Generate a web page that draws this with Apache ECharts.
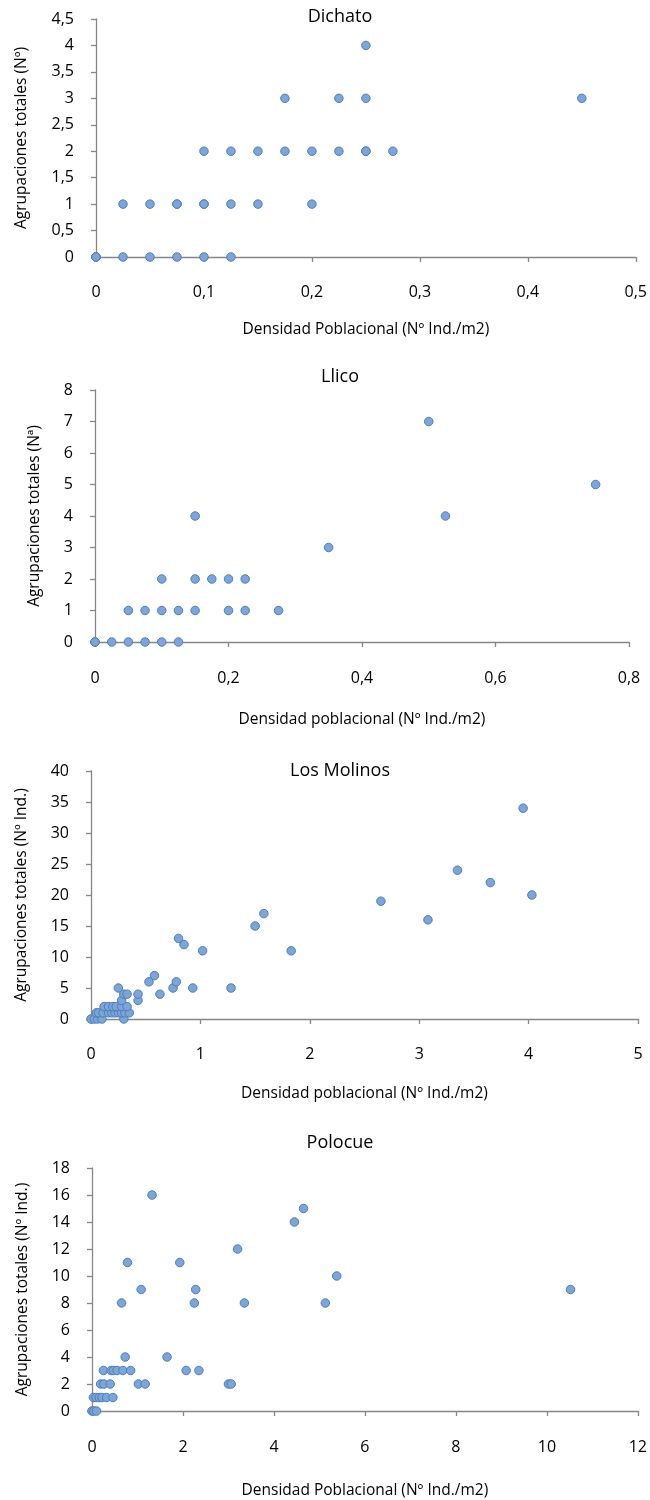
<!DOCTYPE html>
<html>
<head>
<meta charset="utf-8">
<script src="https://cdn.jsdelivr.net/npm/echarts@6/dist/echarts.min.js"></script>
<style>html,body{margin:0;padding:0;background:#fff}#c{width:650px;height:1500px}</style>
</head>
<body>
<div id="c"></div>
<script>
// Data: [density, total groupings]
const dichato = [
  [0,0],[0,0],[0,0],[0.025,0],[0.05,0],[0.075,0],[0.1,0],[0.125,0],
  [0.025,1],[0.05,1],[0.075,1],[0.075,1],[0.1,1],[0.1,1],[0.125,1],[0.15,1],[0.2,1],
  [0.1,2],[0.125,2],[0.15,2],[0.175,2],[0.2,2],[0.225,2],[0.25,2],[0.25,2],[0.275,2],
  [0.175,3],[0.225,3],[0.25,3],[0.45,3],
  [0.25,4]
];
const llico = [
  [0,0],[0,0],[0.025,0],[0.05,0],[0.075,0],[0.1,0],[0.125,0],
  [0.05,1],[0.075,1],[0.1,1],[0.125,1],[0.15,1],[0.2,1],[0.225,1],[0.275,1],
  [0.1,2],[0.15,2],[0.175,2],[0.2,2],[0.225,2],
  [0.35,3],
  [0.15,4],[0.525,4],
  [0.75,5],
  [0.5,7]
];
const losMolinos = [
  [0,0],[0.03,0],[0.06,0],[0.1,0],[0.3,0],
  [0.05,1],[0.07,1],[0.11,1],[0.16,1],[0.19,1],[0.22,1],[0.25,1],[0.28,1],[0.31,1],[0.35,1],
  [0.12,2],[0.16,2],[0.2,2],[0.23,2],[0.28,2],[0.33,2],
  [0.28,3],[0.43,3],
  [0.3,4],[0.33,4],[0.43,4],[0.63,4],
  [0.25,5],[0.75,5],[0.93,5],[1.28,5],
  [0.53,6],[0.78,6],
  [0.58,7],
  [1.02,11],[1.83,11],
  [0.85,12],[0.8,13],
  [1.5,15],[3.08,16],[1.58,17],[2.65,19],[4.03,20],[3.65,22],[3.35,24],[3.95,34]
];
const polocue = [
  [0,0],[0.04,0],[0.1,0],
  [0.03,1],[0.09,1],[0.16,1],[0.22,1],[0.32,1],[0.46,1],
  [0.19,2],[0.26,2],[0.4,2],[1.02,2],[1.17,2],[3.0,2],[3.06,2],
  [0.25,3],[0.42,3],[0.47,3],[0.55,3],[0.68,3],[0.85,3],[2.07,3],[2.35,3],
  [0.73,4],[1.65,4],
  [0.65,8],[2.25,8],[3.35,8],[5.13,8],
  [1.08,9],[2.28,9],[10.52,9],
  [5.38,10],
  [0.78,11],[1.93,11],
  [3.2,12],
  [4.45,14],[4.65,15],[1.32,16]
];
const titles = ['Dichato','Llico','Los Molinos','Polocue'];
const xNames = ['Densidad Poblacional (Nº Ind./m2)','Densidad poblacional (Nº Ind./m2)','Densidad poblacional (Nº Ind./m2)','Densidad Poblacional (Nº Ind./m2)'];
const yNames = ['Agrupaciones totales (Nº)','Agrupaciones totales (Nª)','Agrupaciones totales (Nº Ind.)','Agrupaciones totales (Nº Ind.)'];
const xRanges = [[0,0.5,0.1],[0,0.8,0.2],[0,5,1],[0,12,2]];
const yRanges = [[0,4.5,0.5],[0,8,1],[0,40,5],[0,18,2]];
const seriesData = [dichato, llico, losMolinos, polocue];

const FONT = '"Open Sans"';
const grids = [
  {left:96, right:12, top:19, height:238},
  {left:95, right:21, top:390, height:252},
  {left:91, right:12, top:771, height:248},
  {left:92, right:11, top:1168, height:244}
];
const titleTops = [3, 363, 757, 1129];
const yNameGaps = [66, 52, 61, 61];
const xNameGaps = [65, 70, 67, 72];
const xLabelMargins = [27, 28, 27, 28];
const fmt = v => String(+(+v).toFixed(3)).replace('.', ',');
const axisLine = {show:true, lineStyle:{color:'#868686', width:1.3}};
const axisTick = {show:true, inside:false, length:5, lineStyle:{color:'#868686', width:1.3}};

const option = {
  animation:false,
  backgroundColor:'#fff',
  title: titles.map((t,i)=>({text:t, left:335, top:titleTops[i], textAlign:'center',
    textStyle:{fontFamily:FONT, fontSize:18, fontWeight:'normal', color:'#000'}})),
  grid: grids,
  xAxis: xRanges.map((r,i)=>({type:'value', gridIndex:i, min:r[0], max:r[1], interval:r[2],
    name:xNames[i], nameLocation:'middle', nameGap:xNameGaps[i],
    nameTextStyle:{fontFamily:FONT, fontSize:15.5, color:'#000'},
    axisLine, axisTick, splitLine:{show:false},
    axisLabel:{fontFamily:FONT, fontSize:16, color:'#000', margin:xLabelMargins[i], formatter:fmt}})),
  yAxis: yRanges.map((r,i)=>({type:'value', gridIndex:i, min:r[0], max:r[1], interval:r[2],
    name:yNames[i], nameLocation:'middle', nameGap:yNameGaps[i], nameRotate:90,
    nameTextStyle:{fontFamily:FONT, fontSize:15.5, color:'#000'},
    axisLine, axisTick, splitLine:{show:false},
    axisLabel:{fontFamily:FONT, fontSize:16, color:'#000', margin:22, formatter:fmt}})),
  series: seriesData.map((d,i)=>({type:'scatter', xAxisIndex:i, yAxisIndex:i, data:d,
    symbolSize:8.5, itemStyle:{color:'#7EA5D7', borderColor:'#4A7EBB', borderWidth:1, opacity:1}}))
};
echarts.init(document.getElementById('c')).setOption(option);
</script>
</body>
</html>
